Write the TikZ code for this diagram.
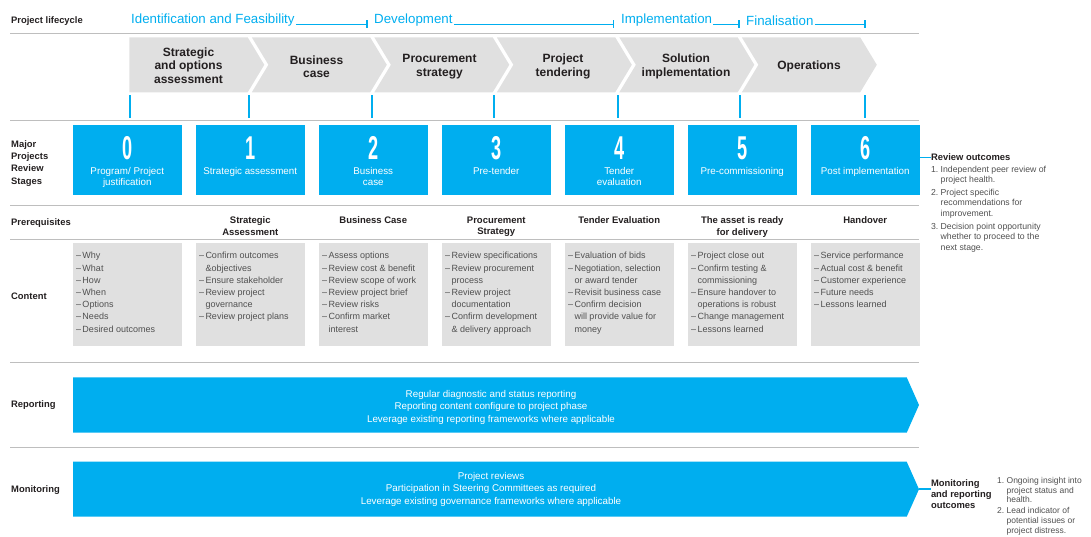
\documentclass[tikz,border=0pt]{standalone}
\usepackage{fontspec}
\setmainfont{Liberation Sans}
\usepackage{tikz}
\usetikzlibrary{positioning,calc}
\definecolor{mpblue}{RGB}{0,174,239}
\definecolor{mpgrey}{RGB}{224,224,224}
\definecolor{mpline}{RGB}{190,190,190}
\definecolor{mptext}{RGB}{80,80,80}
\definecolor{mpdark}{RGB}{35,31,32}
\newcommand{\ind}{\hphantom{–\,}}

\begin{document}
\begin{tikzpicture}[x=1pt,y=-1pt,
  rowlabel/.style={anchor=west,align=left,inner sep=0,text=mpdark,font=\fontsize{9.4}{12.4}\selectfont\bfseries},
  phase/.style={anchor=west,inner sep=1,text=mpblue,font=\fontsize{13.3}{13.3}\selectfont},
  phaseline/.style={draw=mpblue,line width=1.2},
  sepline/.style={draw=mpline,line width=0.9},
  bluetick/.style={draw=mpblue,line width=1.8},
  chevtext/.style={align=center,text=mpdark,font=\fontsize{12}{13.5}\selectfont\bfseries},
  stagebox/.style={fill=mpblue,minimum width=108.5,minimum height=70.6,inner sep=0},
  stagenum/.style={inner sep=0,text=white,font=\fontsize{33}{33}\selectfont\bfseries},
  stagelabel/.style={anchor=north,align=center,inner sep=0,text=white,font=\fontsize{9.8}{11}\selectfont},
  prereq/.style={anchor=north,align=center,inner sep=0,text=mpdark,font=\fontsize{9.5}{11.5}\selectfont\bfseries},
  contbox/.style={fill=mpgrey,minimum width=108.5,minimum height=102.4,inner sep=0},
  conttext/.style={anchor=north west,align=left,inner sep=0,text=mptext,font=\fontsize{9}{12.2}\selectfont},
  bandtext/.style={align=center,inner sep=0,text=white,font=\fontsize{9.8}{12.5}\selectfont},
  outlabel/.style={anchor=west,align=left,inner sep=0,text=mpdark,font=\fontsize{9.4}{11.3}\selectfont\bfseries},
  outlist/.style={anchor=north west,align=left,inner sep=0,text=mptext,font=\fontsize{8.7}{10.4}\selectfont},
  outline/.style={draw=mpblue,line width=1.5}]

      \useasboundingbox (0,0) rectangle (1091,536);

      \path (11,21)    node[rowlabel] (lc)  {Project lifecycle};
      \path (11,163.2) node[rowlabel] (mr)  {Major\\Projects\\Review\\Stages};
      \path (11,223)   node[rowlabel] (pr)  {Prerequisites};
      \path (11,296)   node[rowlabel] (ct)  {Content};
      \path (11,405)   node[rowlabel] (rp)  {Reporting};
      \path (11,490)   node[rowlabel] (mn)  {Monitoring};

      \path (130,20.5) node[phase] (idf) {Identification and Feasibility};
      \path (373,20.5) node[phase] (dev) {Development};
      \path (620,20.5) node[phase] (imp) {Implementation};
      \path (745,20.5) node[phase] (fin) {Finalisation};

      \coordinate (t1) at (367,24.3);
      \coordinate (t2) at (613.5,24.3);
      \coordinate (t3) at (739,24.3);
      \coordinate (t4) at (865,24.3);

      \draw[phaseline] (idf.east |- t1) -- (t1) (t1) ++(0,-4) -- ++(0,7.5);
      \draw[phaseline] (dev.east |- t2) -- (t2) (t2) ++(0,-4) -- ++(0,7.5);
      \draw[phaseline] (imp.east |- t3) -- (t3) (t3) ++(0,-4) -- ++(0,7.5);
      \draw[phaseline] (fin.east |- t4) -- (t4) (t4) ++(0,-4) -- ++(0,7.5);

      \draw[sepline] (10,33)    -- (918.7,33);
      \draw[sepline] (10,120)   -- (918.7,120);
      \draw[sepline] (10,205)   -- (918.7,205);
      \draw[sepline] (10,239)   -- (918.7,239);
      \draw[sepline] (10,362.7) -- (918.7,362.7);
      \draw[sepline] (10,447.5) -- (918.7,447.5);

      \fill[mpgrey] (129.3,37.3) -- (247.7,37.3) -- (264.3,64.8) -- (247.7,92.3) -- (129.3,92.3) -- cycle;
      \fill[mpgrey] (251.8,37.3) -- (370.2,37.3) -- (386.8,64.8) -- (370.2,92.3) -- (251.8,92.3) -- (268.4,64.8) -- cycle;
      \fill[mpgrey] (374.3,37.3) -- (492.7,37.3) -- (509.3,64.8) -- (492.7,92.3) -- (374.3,92.3) -- (390.9,64.8) -- cycle;
      \fill[mpgrey] (496.8,37.3) -- (615.2,37.3) -- (631.8,64.8) -- (615.2,92.3) -- (496.8,92.3) -- (513.4,64.8) -- cycle;
      \fill[mpgrey] (619.3,37.3) -- (737.7,37.3) -- (754.3,64.8) -- (737.7,92.3) -- (619.3,92.3) -- (635.9,64.8) -- cycle;
      \fill[mpgrey] (741.8,37.3) -- (860.2,37.3) -- (876.8,64.8) -- (860.2,92.3) -- (741.8,92.3) -- (758.4,64.8) -- cycle;

      \path (188.5,65.5) node[chevtext] (p1) {Strategic\\and options\\assessment};
      \path (316.5,66.5) node[chevtext] (p2) {Business\\case};
      \path (439.5,66.5) node[chevtext] (p3) {Procurement\\strategy};
      \path (563,66.5)   node[chevtext] (p4) {Project\\tendering};
      \path (686,66.5)   node[chevtext] (p5) {Solution\\implementation};
      \path (809,66)     node[chevtext] (p6) {Operations};

      \draw[bluetick] (130,95) -- (130,118.3);
      \draw[bluetick] (249,95) -- (249,118.3);
      \draw[bluetick] (372,95) -- (372,118.3);
      \draw[bluetick] (494,95) -- (494,118.3);
      \draw[bluetick] (618,95) -- (618,118.3);
      \draw[bluetick] (740,95) -- (740,118.3);
      \draw[bluetick] (865,95) -- (865,118.3);

      \path (127.25,160) node[stagebox] (s0) {};
      \path (250.25,160) node[stagebox] (s1) {};
      \path (373.25,160) node[stagebox] (s2) {};
      \path (496.25,160) node[stagebox] (s3) {};
      \path (619.25,160) node[stagebox] (s4) {};
      \path (742.25,160) node[stagebox] (s5) {};
      \path (865.25,160) node[stagebox] (s6) {};

      \path (127.25,148) node[stagenum] (n0) {\scalebox{0.55}[1]{0}};
      \path (250.25,148) node[stagenum] (n1) {\scalebox{0.55}[1]{1}};
      \path (373.25,148) node[stagenum] (n2) {\scalebox{0.55}[1]{2}};
      \path (496.25,148) node[stagenum] (n3) {\scalebox{0.55}[1]{3}};
      \path (619.25,148) node[stagenum] (n4) {\scalebox{0.55}[1]{4}};
      \path (742.25,148) node[stagenum] (n5) {\scalebox{0.55}[1]{5}};
      \path (865.25,148) node[stagenum] (n6) {\scalebox{0.55}[1]{6}};

      \path (127.25,167.5) node[stagelabel] (l0) {Program/ Project\\justification};
      \path (250.25,167.5) node[stagelabel] (l1) {Strategic assessment};
      \path (373.25,167.5) node[stagelabel] (l2) {Business\\case};
      \path (496.25,167.5) node[stagelabel] (l3) {Pre-tender};
      \path (619.25,167.5) node[stagelabel] (l4) {Tender\\evaluation};
      \path (742.25,167.5) node[stagelabel] (l5) {Pre-commissioning};
      \path (865.25,167.5) node[stagelabel] (l6) {Post implementation};

      \path (250.25,216.5) node[prereq] (r1) {Strategic\\Assessment};
      \path (373.25,216.5) node[prereq] (r2) {Business Case};
      \path (496.25,216.5) node[prereq] (r3) {Procurement\\Strategy};
      \path (619.25,216.5) node[prereq] (r4) {Tender Evaluation};
      \path (742.25,216.5) node[prereq] (r5) {The asset is ready\\for delivery};
      \path (865.25,216.5) node[prereq] (r6) {Handover};

      \path (127.25,294.5) node[contbox] (c0) {};
      \path (250.25,294.5) node[contbox] (c1) {};
      \path (373.25,294.5) node[contbox] (c2) {};
      \path (496.25,294.5) node[contbox] (c3) {};
      \path (619.25,294.5) node[contbox] (c4) {};
      \path (742.25,294.5) node[contbox] (c5) {};
      \path (865.25,294.5) node[contbox] (c6) {};

      \path (c0.north west) ++(3,9) node[conttext] (ct0) {–\,Why\\–\,What\\–\,How\\–\,When\\–\,Options\\–\,Needs\\–\,Desired outcomes};
      \path (c1.north west) ++(3,9) node[conttext] (ct1) {–\,Confirm outcomes\\\ind\&objectives\\–\,Ensure stakeholder\\–\,Review project\\\ind governance\\–\,Review project plans};
      \path (c2.north west) ++(3,9) node[conttext] (ct2) {–\,Assess options\\–\,Review cost \& benefit\\–\,Review scope of work\\–\,Review project brief\\–\,Review risks\\–\,Confirm market\\\ind interest};
      \path (c3.north west) ++(3,9) node[conttext] (ct3) {–\,Review specifications\\–\,Review procurement\\\ind process\\–\,Review project\\\ind documentation\\–\,Confirm development\\\ind\& delivery approach};
      \path (c4.north west) ++(3,9) node[conttext] (ct4) {–\,Evaluation of bids\\–\,Negotiation, selection\\\ind or award tender\\–\,Revisit business case\\–\,Confirm decision\\\ind will provide value for\\\ind money};
      \path (c5.north west) ++(3,9) node[conttext] (ct5) {–\,Project close out\\–\,Confirm testing \&\\\ind commissioning\\–\,Ensure handover to\\\ind operations is robust\\–\,Change management\\–\,Lessons learned};
      \path (c6.north west) ++(3,9) node[conttext] (ct6) {–\,Service performance\\–\,Actual cost \& benefit\\–\,Customer experience\\–\,Future needs\\–\,Lessons learned};

      \fill[mpblue] (73,377.3) -- (906.7,377.3) -- (919,405) -- (906.7,432.7) -- (73,432.7) -- cycle;
      \fill[mpblue] (73,461.7) -- (906.7,461.7) -- (919,489.2) -- (906.7,516.7) -- (73,516.7) -- cycle;
      \coordinate (mtip) at (919,489.2);

      \path (491,407.3) node[bandtext] (rep) {Regular diagnostic and status reporting\\Reporting content configure to project phase\\Leverage existing reporting frameworks where applicable};
      \path (491,489.4) node[bandtext] (mon) {Project reviews\\Participation in Steering Committees as required\\Leverage existing governance frameworks where applicable};

      \path (930.8,157.4) node[outlabel] (rev) {Review outcomes};
      \path (930.8,165.5) node[outlist] (revl) {1.\ Independent peer review of\\\hphantom{1.\ }project health.\\[2.6pt]2.\ Project specific\\\hphantom{2.\ }recommendations for\\\hphantom{2.\ }improvement.\\[2.6pt]3.\ Decision point opportunity\\\hphantom{3.\ }whether to proceed to the\\\hphantom{3.\ }next stage.};
      \draw[outline] (s6.east |- rev) -- (rev.west);

      \path (930.8,494)   node[outlabel] (mout) {Monitoring\\and reporting\\outcomes};
      \path (997,477)     node[outlist,font=\fontsize{8.5}{9.8}\selectfont] (moutl) {1.\ Ongoing insight into\\\hphantom{1.\ }project status and\\\hphantom{1.\ }health.\\[1pt]2.\ Lead indicator of\\\hphantom{2.\ }potential issues or\\\hphantom{2.\ }project distress.};
      \draw[outline] (mtip) -- (mout.west |- mtip);

    \end{tikzpicture}
\end{document}
